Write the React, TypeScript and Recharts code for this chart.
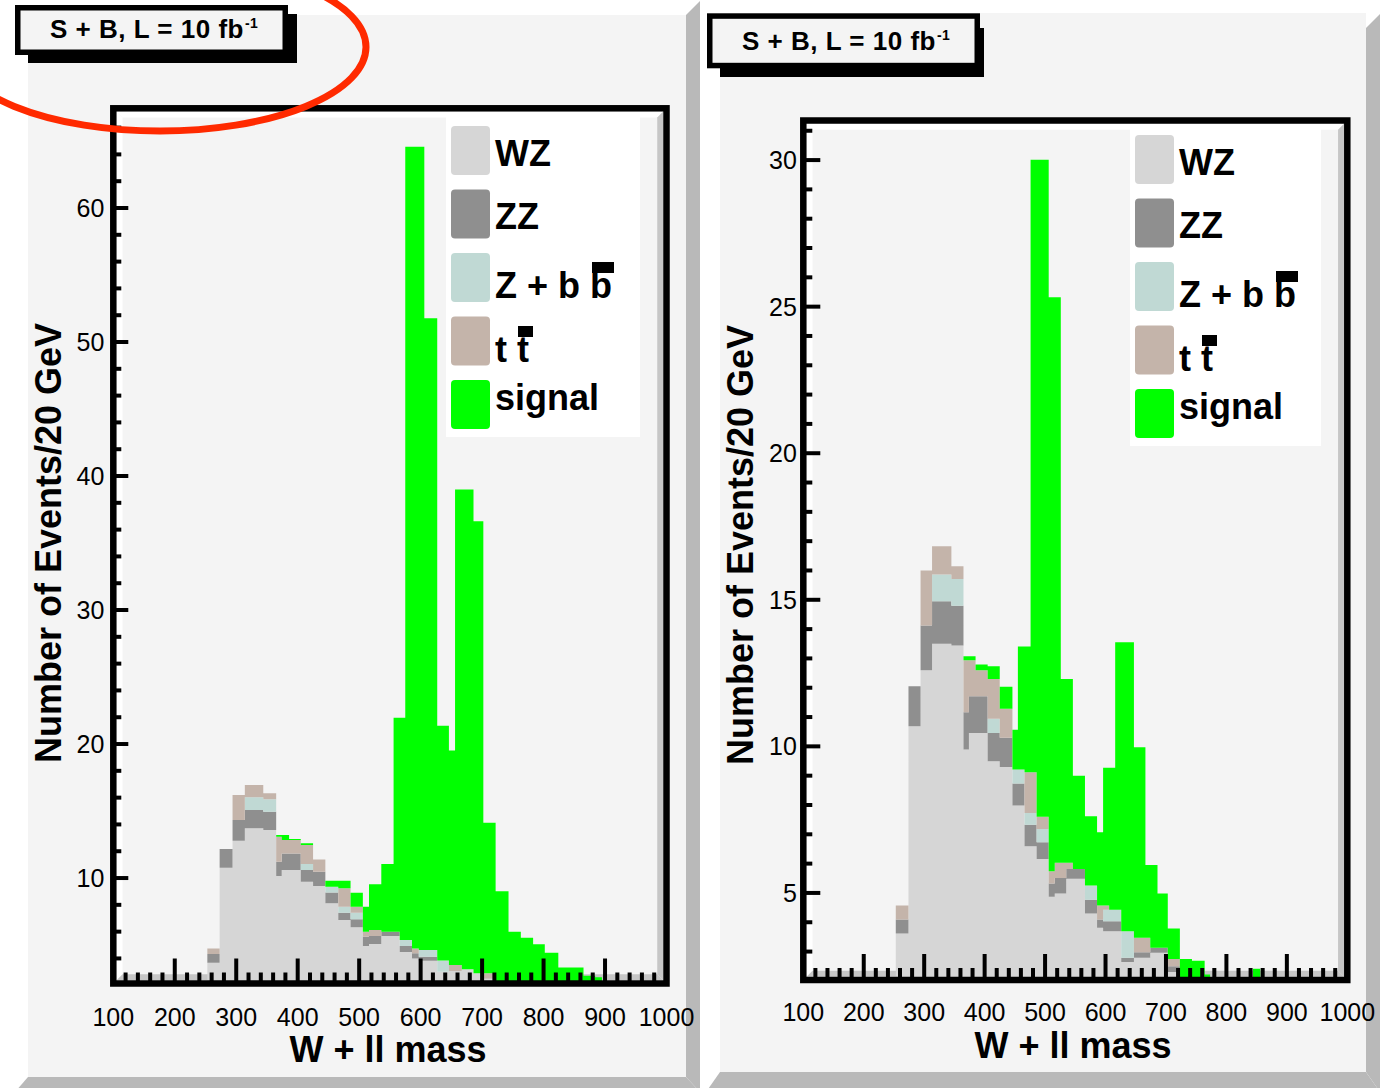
import React from 'react';
import { AreaChart, Area, XAxis, YAxis } from 'recharts';

const FONT = "'Liberation Sans', Arial, Helvetica, sans-serif";
const W = 1395;
const H = 1088;

// ---- series meta ----
const seriesKeys = ['wz', 'zz', 'zbb', 'tt', 'sig'];
const seriesColors = ['#d6d6d6', '#8f8f8f', '#c0d9d4', '#c4b4aa', '#00ff00'];
const legendLabels = ['WZ', 'ZZ', 'Z + b b', 't t', 'signal'];

// ---- tick labels ----
const xTickLabels = [100, 200, 300, 400, 500, 600, 700, 800, 900, 1000];
const leftYTickLabels = [10, 20, 30, 40, 50, 60];
const rightYTickLabels = [5, 10, 15, 20, 25, 30];

// ---- left panel (bin edges in GeV, stacked component heights per bin) ----
const leftEdges = [253, 273, 294, 314, 344, 365, 374, 386, 405, 425, 445, 466, 486, 506, 516, 536, 556, 566, 575, 586, 597, 606, 627, 646, 656, 667, 686, 702, 722, 743, 763, 783, 802, 824, 865, 884, 895];
const leftWZ = [3.68, 10.77, 12.79, 13.71, 13.58, 10.15, 10.6, 10.6, 9.73, 9.4, 8.11, 6.87, 6.32, 4.93, 5.07, 5.67, 5.67, 4.48, 4.48, 4.0, 3.83, 3.83, 3.0, 3.07, 3.07, 3.19, 2.9, 2.5, 2.3, 2.3, 2.3, 2.3, 2.3, 2.0, 2.0, 2.0];
const leftZZ = [0.65, 1.39, 1.54, 1.36, 1.37, 1.07, 1.24, 1.24, 0.87, 1.07, 0.82, 0.54, 0.6, 0.69, 0.6, 0.33, 0.33, 0.45, 0.45, 0.38, 0.3, 0.3, 0, 0, 0, 0, 0, 0, 0, 0, 0, 0, 0, 0, 0, 0];
const leftZbb = [0, 0, 0, 0.95, 0.92, 0, 0, 0, 0.44, 0, 0.42, 0.45, 0.49, 0, 0, 0, 0, 0.44, 0.44, 0, 0.5, 0.5, 0.85, 0, 0, 0, 0, 0, 0, 0, 0, 0, 0, 0, 0, 0];
const leftTT = [0.42, 0, 1.86, 0.92, 0.45, 1.86, 1.0, 1.0, 1.42, 0.92, 0, 1.37, 0.45, 0.38, 0.45, 0, 0, 0, 0, 0.37, 0, 0, 0, 0.44, 0.44, 0, 0, 0.4, 0, 0, 0, 0, 0, 0, 0, 0];
const leftSig = [0, 0, 0, 0, 0, 0.13, 0.37, 0.07, 0.13, 0, 0.45, 0.57, 1.05, 1.86, 3.41, 5.04, 15.96, 16.59, 59.2, 59.82, 59.94, 47.14, 17.52, 16.0, 35.49, 35.81, 33.73, 11.22, 6.72, 3.69, 3.25, 2.75, 2.13, 1.33, 0.71, 0.59];

// ---- right panel ----
const rightEdges = [253, 274, 294, 313, 345, 365, 374, 385, 405, 425, 446, 455, 466, 476, 486, 506, 516, 526, 535, 546, 566, 586, 596, 606, 616, 626, 647, 666, 674, 686, 703, 723, 743, 764, 773, 844, 856];
const rightWZ = [3.62, 10.69, 12.6, 13.5, 13.44, 9.89, 10.46, 10.46, 9.49, 9.3, 7.98, 7.98, 6.59, 6.59, 6.16, 4.87, 4.98, 4.98, 5.48, 5.48, 4.3, 3.81, 3.69, 3.69, 3.69, 2.64, 2.79, 2.79, 2.96, 2.96, 2.3, 1.8, 1.8, 1.8, 0, 1.8];
const rightZZ = [0.47, 1.36, 1.52, 1.45, 1.36, 1.27, 1.25, 1.25, 0.97, 0.99, 0.75, 0.75, 0.74, 0.74, 0.57, 0.45, 0.53, 0.53, 0.34, 0.34, 0.47, 0.28, 0.34, 0.34, 0.34, 0.15, 0.19, 0.19, 0.17, 0.17, 0.2, 0, 0, 0, 0, 0];
const rightZbb = [0, 0, 0, 0.91, 0.91, 0, 0, 0, 0.48, 0, 0.48, 0.48, 0.4, 0.4, 0.45, 0, 0, 0, 0, 0, 0.48, 0, 0.4, 0.4, 0.4, 0.9, 0, 0, 0, 0, 0, 0, 0, 0, 0, 0];
const rightTT = [0.48, 0, 1.88, 0.97, 0.43, 1.78, 1.23, 0.89, 1.36, 0.99, 0, 0, 1.39, 1.39, 0.42, 0.42, 0.52, 0.52, 0.21, 0, 0, 0.48, 0.14, 0, 0, 0, 0.49, 0.49, 0, 0, 0.25, 0, 0, 0, 0, 0];
const rightSig = [0, 0, 0, 0, 0, 0.13, 0.13, 0.19, 0.43, 0.75, 1.36, 4.2, 4.29, 20.89, 22.41, 19.58, 19.29, 6.27, 6.27, 3.18, 2.37, 2.5, 4.7, 4.84, 9.12, 9.86, 6.5, 2.48, 2.82, 1.85, 1.04, 0.95, 0.89, 0.42, 0, 0.61];

function steps(a: number, b: number, s: number) {
  const out: number[] = [];
  for (let v = a; v <= b + 1e-9; v += s) out.push(Math.round(v * 100) / 100);
  return out;
}
const xAllTicks = steps(100, 1000, 20);
const leftYAllTicks = steps(4, 66, 2);
const rightYAllTicks = steps(3, 31, 1);

function buildRows(edges: number[], wz: number[], zz: number[], zbb: number[], tt: number[], sig: number[]) {
  return edges.map((x, i) => ({
    x,
    wz: wz[i] ?? 0,
    zz: zz[i] ?? 0,
    zbb: zbb[i] ?? 0,
    tt: tt[i] ?? 0,
    sig: sig[i] ?? 0,
  }));
}

const leftRows = buildRows(leftEdges, leftWZ, leftZZ, leftZbb, leftTT, leftSig);
const rightRows = buildRows(rightEdges, rightWZ, rightZZ, rightZbb, rightTT, rightSig);

type Frame = { x0: number; x1: number; y0: number; y1: number };

type PanelCfg = {
  rows: any[];
  frame: Frame;
  yDomain: [number, number];
  yTicks: number[];
  yLabels: number[];
  xMajorLen: number;
  xMinorLen: number;
  yMajorLen: number;
  yMinorLen: number;
  xLabelDy: number;
  yLabelDx: number;
};

const leftCfg: PanelCfg = {
  rows: leftRows,
  frame: { x0: 113.3, x1: 666.5, y0: 108.3, y1: 983.5 },
  yDomain: [2.13, 67.44],
  yTicks: leftYAllTicks,
  yLabels: leftYTickLabels,
  xMajorLen: 25,
  xMinorLen: 11,
  yMajorLen: 15,
  yMinorLen: 8,
  xLabelDy: 42.5,
  yLabelDx: 9,
};

const rightCfg: PanelCfg = {
  rows: rightRows,
  frame: { x0: 803.3, x1: 1347.3, y0: 120.5, y1: 980 },
  yDomain: [2.03, 31.35],
  yTicks: rightYAllTicks,
  yLabels: rightYTickLabels,
  xMajorLen: 26,
  xMinorLen: 12,
  yMajorLen: 17,
  yMinorLen: 9,
  xLabelDy: 41,
  yLabelDx: 6.5,
};

function XTick(props: any) {
  const { x, y, payload, cfg } = props;
  const v = payload.value;
  const major = xTickLabels.includes(v);
  return (
    <g>
      <line x1={x} x2={x} y1={y} y2={y - (major ? cfg.xMajorLen : cfg.xMinorLen)} stroke="#000" strokeWidth={4} />
      {major && (
        <text x={x} y={y + cfg.xLabelDy} textAnchor="middle" fontSize={25} fontFamily={FONT} fill="#000">
          {v}
        </text>
      )}
    </g>
  );
}

function YTick(props: any) {
  const { x, y, payload, cfg } = props;
  const v = payload.value;
  const major = cfg.yLabels.includes(v);
  return (
    <g>
      <line x1={x} x2={x + (major ? cfg.yMajorLen : cfg.yMinorLen)} y1={y} y2={y} stroke="#000" strokeWidth={4} />
      {major && (
        <text x={x - cfg.yLabelDx} y={y + 9} textAnchor="end" fontSize={25} fontFamily={FONT} fill="#000">
          {v}
        </text>
      )}
    </g>
  );
}

function HistPanel({ cfg }: { cfg: PanelCfg }) {
  const f = cfg.frame;
  return (
    <div style={{ position: 'absolute', left: 0, top: 0 }}>
      <AreaChart
        width={W}
        height={H}
        data={cfg.rows}
        margin={{ top: f.y0, bottom: H - f.y1 - 1, left: f.x0 - 1, right: W - f.x1 }}
      >
        {seriesKeys.map((k, i) => (
          <Area
            key={k}
            type="stepAfter"
            dataKey={k}
            stackId="stack"
            stroke="none"
            fill={seriesColors[i]}
            fillOpacity={1}
            isAnimationActive={false}
            dot={false}
            activeDot={false}
          />
        ))}
        <XAxis
          type="number"
          dataKey="x"
          domain={[100, 1000]}
          allowDataOverflow
          ticks={xAllTicks}
          interval={0}
          height={1}
          axisLine={false}
          tickLine={false}
          tickSize={0}
          tickMargin={0}
          tick={(p: any) => <XTick {...p} cfg={cfg} />}
        />
        <YAxis
          type="number"
          domain={cfg.yDomain}
          allowDataOverflow
          ticks={cfg.yTicks}
          interval={0}
          width={1}
          axisLine={false}
          tickLine={false}
          tickSize={0}
          tickMargin={0}
          tick={(p: any) => <YTick {...p} cfg={cfg} />}
        />
      </AreaChart>
    </div>
  );
}

function Bevel({ f }: { f: Frame }) {
  const t = 3.25;
  const ix0 = f.x0 + t;
  const ix1 = f.x1 - t;
  const iy0 = f.y0 + t;
  const iy1 = f.y1 - t;
  const b = 6;
  return (
    <g>
      <rect x={ix0} y={iy0} width={ix1 - ix0} height={iy1 - iy0} fill="#f4f4f4" />
      <polygon points={`${ix0},${iy0} ${ix1},${iy0} ${ix1 - b},${iy0 + b} ${ix0 + b},${iy0 + b}`} fill="#ffffff" />
      <polygon points={`${ix0},${iy0} ${ix0 + b},${iy0 + b} ${ix0 + b},${iy1 - b} ${ix0},${iy1}`} fill="#ffffff" />
      <polygon points={`${ix1},${iy0} ${ix1},${iy1} ${ix1 - b},${iy1 - b} ${ix1 - b},${iy0 + b}`} fill="#c6c6c6" />
      <polygon points={`${ix0},${iy1} ${ix1},${iy1} ${ix1 - b},${iy1 - b} ${ix0 + b},${iy1 - b}`} fill="#c6c6c6" />
    </g>
  );
}

function LegendBox({ dx, dy, w }: { dx: number; dy: number; w: number }) {
  const boxX = 446 + dx;
  const boxY = 117 + dy;
  const swTops = [126, 189.5, 253, 316.5, 380];
  const baselines = [165.5, 228.5, 298, 362, 410];
  const tx = 495 + dx;
  return (
    <g>
      <rect x={boxX} y={boxY} width={w} height={320} fill="#ffffff" />
      {legendLabels.map((lab, i) => (
        <g key={lab}>
          <rect x={451 + dx} y={swTops[i] + dy} width={39} height={49} rx={4} fill={seriesColors[i]} />
          <text x={tx} y={baselines[i] + dy} fontSize={36} fontWeight="bold" fontFamily={FONT} fill="#000">
            {lab}
          </text>
        </g>
      ))}
      <rect x={tx + 97} y={baselines[2] + dy - 36} width={22} height={11} fill="#000" />
      <rect x={tx + 23} y={baselines[3] + dy - 36} width={15} height={11} fill="#000" />
    </g>
  );
}

function TitleBox({ x, y, w, h, sx1, sy0, sx0, sy1, tx, ty }: any) {
  return (
    <g>
      <rect x={sx0} y={sy0} width={sx1 - sx0} height={sy1 - sy0} fill="#000" />
      <rect x={x + 2.75} y={y + 2.75} width={w - 5.5} height={h - 5.5} fill="#f4f4f4" stroke="#000" strokeWidth={5.5} />
      <text x={tx} y={ty} fontSize={26} fontWeight="bold" fontFamily={FONT} fill="#000" letterSpacing={0.5}>
        S + B, L = 10 fb
        <tspan dx={1} dy={-10} fontSize={14}>
          -1
        </tspan>
      </text>
    </g>
  );
}

export default function App() {
  const lf = leftCfg.frame;
  const rf = rightCfg.frame;
  return (
    <div style={{ position: 'absolute', left: 0, top: 0, width: W, height: H, background: '#ffffff', overflow: 'hidden' }}>
      <svg width={W} height={H} style={{ position: 'absolute', left: 0, top: 0 }}>
        {/* left pad */}
        <rect x={28} y={15} width={658} height={1062} fill="#f4f4f4" />
        <polygon points="686,15 700,1 700,1092 686,1077" fill="#b9b9b9" />
        <polygon points="15,1092 28,1077 686,1077 700,1092" fill="#b9b9b9" />
        {/* right pad */}
        <rect x={720} y={13} width={646} height={1059} fill="#f4f4f4" />
        <polygon points="1366,28 1380,14 1380,1092 1366,1072" fill="#b9b9b9" />
        <polygon points="706,1092 720,1072 1366,1072 1380,1092" fill="#b9b9b9" />
        <Bevel f={lf} />
        <Bevel f={rf} />
      </svg>

      <HistPanel cfg={leftCfg} />
      <HistPanel cfg={rightCfg} />

      <svg width={W} height={H} style={{ position: 'absolute', left: 0, top: 0, pointerEvents: 'none' }}>
        {/* frames */}
        <rect x={lf.x0} y={lf.y0} width={lf.x1 - lf.x0} height={lf.y1 - lf.y0} fill="none" stroke="#000" strokeWidth={6.5} />
        <rect x={rf.x0} y={rf.y0} width={rf.x1 - rf.x0} height={rf.y1 - rf.y0} fill="none" stroke="#000" strokeWidth={6.5} />

        {/* legends */}
        <LegendBox dx={0} dy={0} w={194} />
        <LegendBox dx={684} dy={9} w={191} />

        {/* axis titles */}
        <text x={61} y={543} transform="rotate(-90 61 543)" textAnchor="middle" fontSize={36} fontWeight="bold" fontFamily={FONT} fill="#000">
          Number of Events/20 GeV
        </text>
        <text x={753} y={545} transform="rotate(-90 753 545)" textAnchor="middle" fontSize={36} fontWeight="bold" fontFamily={FONT} fill="#000">
          Number of Events/20 GeV
        </text>
        <text x={388} y={1062} textAnchor="middle" fontSize={36} fontWeight="bold" fontFamily={FONT} fill="#000">
          W + ll mass
        </text>
        <text x={1073} y={1058} textAnchor="middle" fontSize={36} fontWeight="bold" fontFamily={FONT} fill="#000">
          W + ll mass
        </text>

        {/* title boxes */}
        <TitleBox x={15} y={5} w={273} h={50} sx0={28} sy0={14} sx1={297} sy1={63} tx={50} ty={37.5} />
        <TitleBox x={707} y={13.3} w={273} h={55} sx0={720} sy0={28} sx1={984} sy1={77} tx={742} ty={50} />

        {/* red annotation ellipse */}
        <ellipse cx={160} cy={47} rx={206} ry={84} fill="none" stroke="#ff2a00" strokeWidth={7} />
      </svg>
    </div>
  );
}
